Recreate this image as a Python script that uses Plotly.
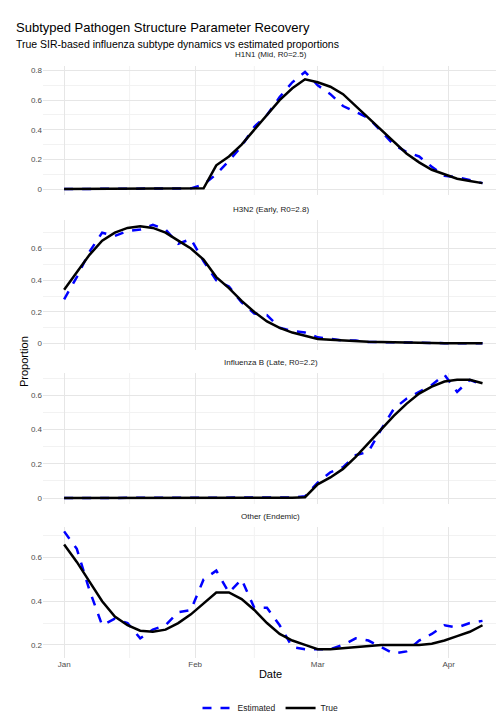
import pandas as pd
import plotly.graph_objects as go

dates = pd.date_range("2024-01-01", periods=34, freq="3D")

h1n1_true = [0,0,0,0,0,0,0,0,0,0,0,0.005,0.16,0.22,0.30,0.40,0.50,0.60,0.68,0.74,0.72,0.69,0.64,0.56,0.48,0.40,0.32,0.24,0.18,0.13,0.10,0.07,0.055,0.04]
h1n1_est = [0,0,0,0,0,0,0,0,0,0,0.005,0.03,0.10,0.19,0.29,0.42,0.50,0.62,0.72,0.79,0.70,0.64,0.56,0.52,0.48,0.39,0.30,0.25,0.22,0.15,0.09,0.08,0.06,0.04]
h3n2_true = [0.34,0.45,0.56,0.65,0.70,0.73,0.74,0.73,0.70,0.65,0.60,0.53,0.42,0.35,0.27,0.20,0.14,0.10,0.07,0.05,0.03,0.025,0.02,0.015,0.012,0.01,0.008,0.006,0.005,0.004,0.003,0.003,0.002,0.002]
h3n2_est = [0.28,0.42,0.58,0.70,0.68,0.71,0.72,0.75,0.72,0.63,0.66,0.52,0.40,0.36,0.26,0.19,0.18,0.10,0.08,0.07,0.04,0.03,0.02,0.02,0.01,0.01,0.008,0.006,0.005,0.004,0.003,0.003,0.002,0.002]
flub_true = [0,0,0,0,0,0,0,0,0,0,0,0,0,0,0,0,0,0,0.002,0.005,0.08,0.12,0.17,0.24,0.32,0.40,0.48,0.55,0.61,0.65,0.68,0.69,0.69,0.67]
flub_est = [0,0,0,0,0,0,0,0,0,0,0,0,0,0,0,0,0,0,0.003,0.01,0.09,0.15,0.18,0.25,0.27,0.40,0.52,0.58,0.62,0.66,0.72,0.62,0.69,0.66]
other_true = [0.66,0.58,0.49,0.40,0.33,0.29,0.265,0.26,0.27,0.30,0.34,0.39,0.44,0.44,0.41,0.36,0.30,0.25,0.22,0.20,0.18,0.18,0.185,0.19,0.195,0.20,0.20,0.20,0.20,0.205,0.22,0.24,0.26,0.29]
other_est = [0.72,0.64,0.45,0.29,0.32,0.30,0.23,0.27,0.29,0.35,0.36,0.50,0.54,0.44,0.50,0.37,0.37,0.29,0.19,0.18,0.18,0.18,0.20,0.23,0.22,0.19,0.16,0.17,0.22,0.25,0.29,0.28,0.30,0.31]

panels = [
    ("H1N1 (Mid, R0=2.5)", h1n1_true, h1n1_est, [-0.04, 0.83], [0, 0.2, 0.4, 0.6, 0.8], (58, 187)),
    ("H3N2 (Early, R0=2.8)", h3n2_true, h3n2_est, [-0.04, 0.78], [0, 0.2, 0.4, 0.6], (212, 342)),
    ("Influenza B (Late, R0=2.2)", flub_true, flub_est, [-0.035, 0.73], [0, 0.2, 0.4, 0.6], (365, 496)),
    ("Other (Endemic)", other_true, other_est, [0.14, 0.74], [0.2, 0.4, 0.6], (519, 650)),
]

H = 720
fig = go.Figure()
shapes, annos = [], []
for i, (name, tv, ev, yr, yt, (top, bot)) in enumerate(panels):
    n = i + 1
    sfx = "" if n == 1 else str(n)
    xa, ya = "x" + sfx, "y" + sfx
    fig.add_trace(go.Scatter(x=dates, y=ev, mode="lines", name="Estimated", legendgroup="e",
                             showlegend=(n == 1), line=dict(color="blue", width=2.5, dash="dash"),
                             xaxis=xa, yaxis=ya))
    fig.add_trace(go.Scatter(x=dates, y=tv, mode="lines", name="True", legendgroup="t",
                             showlegend=(n == 1), line=dict(color="black", width=2.5),
                             xaxis=xa, yaxis=ya))
    dom = [1 - bot / H, 1 - top / H]
    fig.layout["yaxis" + sfx] = dict(
        domain=dom, range=yr, tickvals=yt, anchor=xa, showline=False, zeroline=False,
        gridcolor="#e6e6e6", tickfont=dict(size=8, color="#4d4d4d"),
        minor=dict(dtick=0.1, showgrid=True, gridcolor="#f2f2f2"))
    xd = dict(
        anchor=ya, range=["2023-12-27", "2024-04-12 16:00"],
        tickvals=["2024-01-01", "2024-02-01", "2024-03-01", "2024-04-01"],
        ticktext=["Jan", "Feb", "Mar", "Apr"], showticklabels=(n == 4),
        gridcolor="#e6e6e6", zeroline=False, tickfont=dict(size=8, color="#4d4d4d"))
    if n == 4:
        xd["title"] = dict(text="Date", font=dict(size=11, color="black"), standoff=2)
    fig.layout["xaxis" + sfx] = xd
    for d in ["2024-01-16 12:00", "2024-02-15", "2024-03-16 12:00"]:
        shapes.append(dict(type="line", xref=xa, yref=f"{ya} domain", x0=d, x1=d, y0=0, y1=1,
                           line=dict(color="#f2f2f2", width=1), layer="below"))
    annos.append(dict(text=name, x=0.5, xref="paper", y=1 - (top - 11) / H, yref="paper",
                      showarrow=False, font=dict(size=8, color="#1a1a1a"), yanchor="middle"))

annos += [
    dict(text="Subtyped Pathogen Structure Parameter Recovery", x=0, xref="paper", xanchor="left",
         y=1 - 10 / H, yref="paper", showarrow=False, font=dict(size=13, color="black"), xshift=-29),
    dict(text="True SIR-based influenza subtype dynamics vs estimated proportions", x=0, xref="paper",
         xanchor="left", y=1 - 28 / H, yref="paper", showarrow=False, font=dict(size=10.5, color="black"), xshift=-29),
    dict(text="Proportion", x=0, xref="paper", xshift=-27, y=1 - 354 / H,
         yref="paper", showarrow=False, textangle=-90, font=dict(size=11, color="black")),
]

fig.update_layout(
    width=504, height=720, margin=dict(l=35, r=14, t=0, b=0),
    paper_bgcolor="white", plot_bgcolor="white",
    font=dict(family="Liberation Sans, Arial, sans-serif"),
    shapes=shapes, annotations=annos,
    legend=dict(orientation="h", x=0.5, xanchor="center", y=1 - 700 / H, yanchor="middle",
                font=dict(size=8.5, color="#1a1a1a")),
)
fig.write_html("out.html")
